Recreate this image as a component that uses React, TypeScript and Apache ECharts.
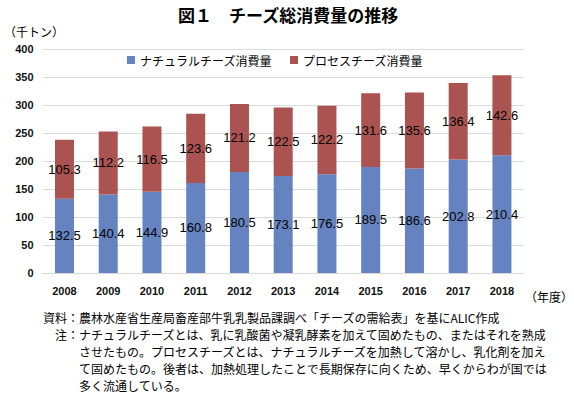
import React, { useEffect, useRef } from "react";
import * as echarts from "echarts";

const years = ["2008", "2009", "2010", "2011", "2012", "2013", "2014", "2015", "2016", "2017", "2018"];
const naturalCheese = [132.5, 140.4, 144.9, 160.8, 180.5, 173.1, 176.5, 189.5, 186.6, 202.8, 210.4];
const processCheese = [105.3, 112.2, 116.5, 123.6, 121.2, 122.5, 122.2, 131.6, 135.6, 136.4, 142.6];
const seriesNames = ["ナチュラルチーズ消費量", "プロセスチーズ消費量"];
const titleText = "図１　チーズ総消費量の推移";
const yUnit = "（千トン）";
const xUnit = "（年度）";
const noteLines = [
  "資料：農林水産省生産局畜産部牛乳乳製品課調べ「チーズの需給表」を基にALIC作成",
  "注：ナチュラルチーズとは、乳に乳酸菌や凝乳酵素を加えて固めたもの、またはそれを熟成",
  "させたもの。プロセスチーズとは、ナチュラルチーズを加熱して溶かし、乳化剤を加え",
  "て固めたもの。後者は、加熱処理したことで長期保存に向くため、早くからわが国では",
  "多く流通している。",
];

const NUM_FONT = "'Liberation Sans', Arial, 'Noto Sans CJK JP', sans-serif";
const JP_FONT = "'Noto Sans CJK JP', 'Liberation Sans', sans-serif";

export default function App() {
  const ref = useRef<HTMLDivElement>(null);
  useEffect(() => {
    document.body.style.margin = "0";
    const chart = echarts.init(ref.current!, null, { renderer: "svg" });
    const noteX = [43, 55, 79, 79, 79];
    const noteY = [319, 336, 353, 370, 387];
    const labelCfg = {
      show: true,
      position: "inside",
      color: "#000",
      fontSize: 13,
      fontFamily: NUM_FONT,
      formatter: (p: any) => Number(p.value).toFixed(1),
    };
    chart.setOption({
      animation: false,
      backgroundColor: "#ffffff",
      color: ["#6483c0", "#aa5350"],
      grid: { left: 42.6, right: 50.2, top: 49, bottom: 126, containLabel: false },
      legend: {
        top: 49,
        left: 122,
        icon: "rect",
        itemWidth: 8,
        itemHeight: 8,
        itemGap: 18,
        textStyle: { fontSize: 12, fontFamily: JP_FONT, color: "#000" },
        data: seriesNames,
      },
      xAxis: {
        type: "category",
        data: years,
        axisLine: { lineStyle: { color: "#d9d9d9" } },
        axisTick: { show: false },
        axisLabel: { fontSize: 11, fontFamily: NUM_FONT, color: "#111", fontWeight: "bold", margin: 12 },
      },
      yAxis: {
        type: "value",
        min: 0,
        max: 400,
        interval: 50,
        axisLine: { show: false },
        axisTick: { show: false },
        splitLine: { lineStyle: { color: "#dcdcdc" } },
        axisLabel: { fontSize: 11, fontFamily: NUM_FONT, color: "#111", fontWeight: "bold", margin: 9 },
      },
      series: [
        {
          name: seriesNames[0],
          type: "bar",
          stack: "total",
          barWidth: 19,
          data: naturalCheese,
          label: labelCfg,
        },
        {
          name: seriesNames[1],
          type: "bar",
          stack: "total",
          barWidth: 19,
          data: processCheese,
          label: labelCfg,
        },
      ],
      graphic: [
        {
          type: "text",
          left: 178,
          top: 6,
          style: { text: titleText, fontSize: 17, fontWeight: "bold", fontFamily: JP_FONT, fill: "#000" },
        },
        {
          type: "text",
          left: 4,
          top: 25,
          style: { text: yUnit, fontSize: 12, fontFamily: JP_FONT, fill: "#000" },
        },
        {
          type: "text",
          right: 1,
          top: 290,
          style: { text: xUnit, fontSize: 12, fontFamily: JP_FONT, fill: "#000" },
        },
        ...noteLines.map((t, i) => ({
          type: "text",
          left: noteX[i],
          top: noteY[i] - 8,
          style: { text: t, fontSize: 12, fontFamily: JP_FONT, fill: "#000" },
        })),
      ],
    });
    return () => chart.dispose();
  }, []);
  return <div ref={ref} style={{ width: 574, height: 399 }} />;
}
